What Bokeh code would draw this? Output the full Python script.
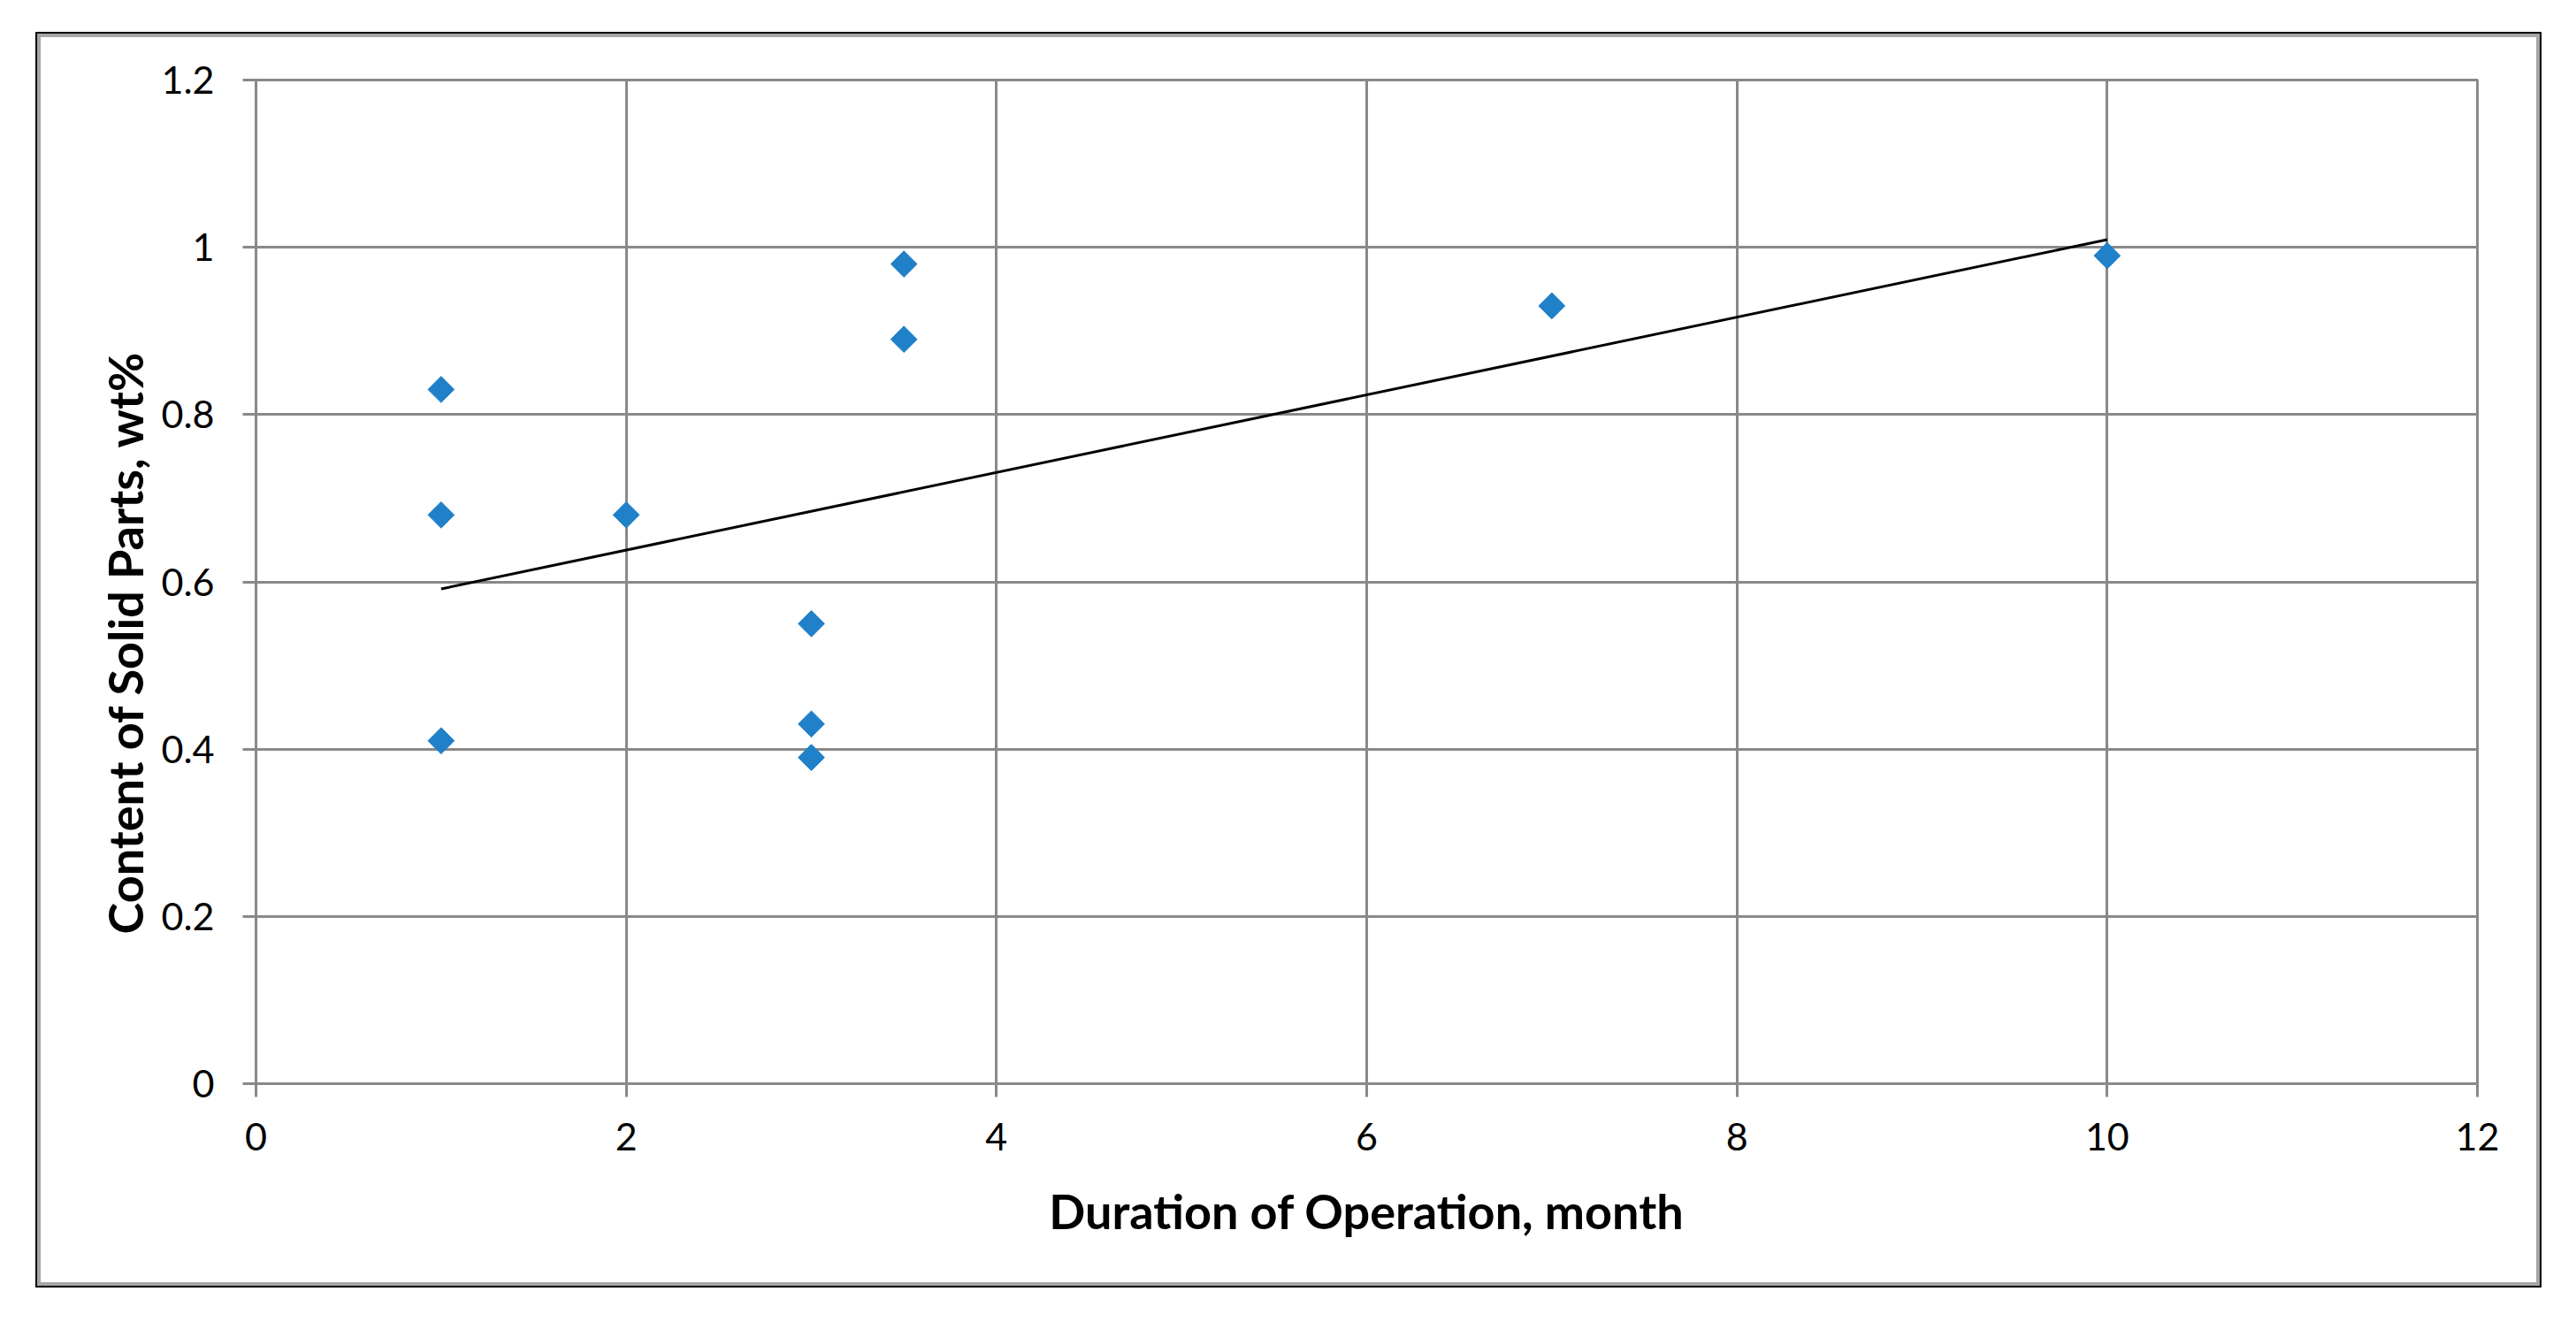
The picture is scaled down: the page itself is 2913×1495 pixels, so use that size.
import numpy as np
from bokeh.plotting import figure
from bokeh.models import FixedTicker, Range1d, Title
from bokeh.embed import file_html
from bokeh.resources import INLINE

# ---- data ----
duration_month = [1, 1, 1, 2, 3, 3, 3, 3.5, 3.5, 7, 10]
solid_content = [0.83, 0.68, 0.41, 0.68, 0.55, 0.43, 0.39, 0.98, 0.89, 0.93, 0.99]

x_ticks = [0, 2, 4, 6, 8, 10, 12]
x_tick_labels = ["0", "2", "4", "6", "8", "10", "12"]
y_ticks = [0, 0.2, 0.4, 0.6, 0.8, 1.0, 1.2]
y_tick_labels = ["0", "0.2", "0.4", "0.6", "0.8", "1", "1.2"]

x_title = "Duration of Operation, month"
y_title = "Content of Solid Parts, wt%"

# linear trendline (least squares) over the data's x extent
slope, intercept = np.polyfit(duration_month, solid_content, 1)
trend_x = [min(duration_month), max(duration_month)]
trend_y = [slope * v + intercept for v in trend_x]

GRID = "#898989"
FONT = "Lato"

# chart box (inside the double border) in page pixels
BOX_L, BOX_T, BOX_R, BOX_B = 46, 42, 2868, 1450
# plot frame in page pixels
FR_L, FR_T, FR_R, FR_B = 289, 90, 2801, 1225

W, H = BOX_R - BOX_L, BOX_B - BOX_T
p = figure(
    width=W, height=H,
    output_backend="svg", toolbar_location=None,
    x_range=Range1d(0, 12), y_range=Range1d(0, 1.2),
    min_border_left=FR_L - BOX_L, min_border_right=BOX_R - FR_R,
    min_border_top=FR_T - BOX_T, min_border_bottom=BOX_B - FR_B,
    background_fill_color="white", border_fill_color="white",
    margin=(BOX_T, 0, 0, BOX_L),
    styles={"box-shadow": "0 0 0 4px #a6a6a6, 0 0 0 6px #000000"},
)
p.outline_line_color = GRID
p.outline_line_width = 3

# grids
p.xgrid.ticker = FixedTicker(ticks=x_ticks)
p.ygrid.ticker = FixedTicker(ticks=y_ticks)
for g in (p.xgrid, p.ygrid):
    g.grid_line_color = GRID
    g.grid_line_width = 3

# axes
p.xaxis.ticker = FixedTicker(ticks=x_ticks)
p.yaxis.ticker = FixedTicker(ticks=y_ticks)
p.xaxis.major_label_overrides = {t: l for t, l in zip(x_ticks, x_tick_labels)}
p.yaxis.major_label_overrides = {t: l for t, l in zip(y_ticks, y_tick_labels)}
for ax in (p.xaxis, p.yaxis):
    ax.axis_line_color = GRID
    ax.axis_line_width = 3
    ax.major_tick_line_color = GRID
    ax.major_tick_line_width = 3
    ax.major_tick_in = 0
    ax.major_tick_out = 15
    ax.minor_tick_line_color = None
    ax.major_label_text_font = FONT
    ax.major_label_text_font_size = "43px"
    ax.major_label_text_color = "black"
p.xaxis.major_label_standoff = 29
p.yaxis.major_label_standoff = 32

p.xaxis.axis_label = x_title
p.xaxis.axis_label_text_font = FONT
p.xaxis.axis_label_text_font_style = "bold"
p.xaxis.axis_label_text_font_size = "54px"
p.xaxis.axis_label_text_color = "black"
p.xaxis.axis_label_standoff = 33

# y title: vertical text on the left side, starting a little above the frame bottom as in the reference
p.add_layout(Title(
    text=y_title, align="left", offset=169, standoff=12,
    text_font=FONT, text_font_style="bold", text_font_size="54px",
    text_color="black",
), "left")

# trendline and points
p.line(trend_x, trend_y, line_color="black", line_width=3)
p.scatter(duration_month, solid_content, marker="square", angle=np.pi / 4,
          size=21, fill_color="#2080c8", line_color="#2080c8", line_width=1)

open("out.html", "w").write(file_html(p, INLINE))
